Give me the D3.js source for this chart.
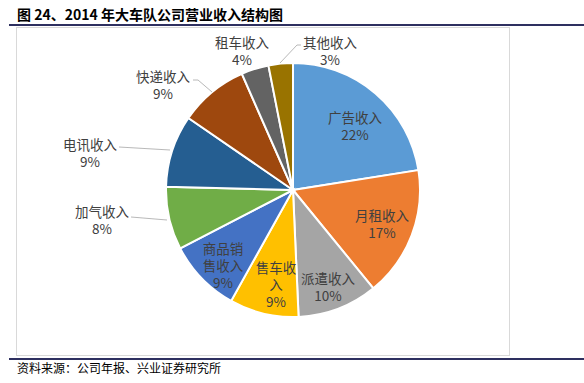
<!DOCTYPE html>
<html>
<head>
<meta charset="utf-8">
<script src="https://cdn.jsdelivr.net/npm/d3@7"></script>
<style>
body{margin:0;background:#fff;}
svg{display:block;font-family:"Noto Sans CJK SC","Noto Sans",sans-serif;}
</style>
</head>
<body>
<div id="chart"></div>
<script>
// data
var names = ["广告收入","月租收入","派遣收入","售车收入","商品销售收入","加气收入","电讯收入","快递收入","租车收入","其他收入"];
var values = [22.5,16.6,10.2,8.8,9.3,8.0,9.2,8.8,3.5,3.1];
var pctLabels = ["22%","17%","10%","9%","9%","8%","9%","9%","4%","3%"];
var colors = ["#5B9BD5","#ED7D31","#A5A5A5","#FFC000","#4472C4","#70AD47","#255E91","#9E480E","#636363","#997300"];

// label layout (block centre offset from pie centre), wrapped lines, leader line
var labelLayout = [
	{dx:62, dy:-64, lines:["广告收入"]},
	{dx:89, dy:34, lines:["月租收入"]},
	{dx:35, dy:97, lines:["派遣收入"]},
	{dx:-17, dy:95, lines:["售车收","入"]},
	{dx:-70, dy:76, lines:["商品销","售收入"]},
	{dx:-191, dy:30, lines:["加气收入"], lead:[[-162,27],[-126,30]]},
	{dx:-203, dy:-37, lines:["电讯收入"], lead:[[-174,-43],[-123,-40]]},
	{dx:-130, dy:-105, lines:["快递收入"], lead:[[-100,-110],[-95,-110],[-81,-98]]},
	{dx:-51, dy:-139, lines:["租车收入"]},
	{dx:37, dy:-139, lines:["其他收入"], lead:[[8,-145],[4,-145],[-13,-127]]}
];

var W=584, H=383;
var cx=293, cy=190, r=127;
var lineH=17;

var svg = d3.select("#chart").append("svg").attr("width",W).attr("height",H);

//title
svg.append("text").attr("x",17).attr("y",20)
	.style("font-size","14px").style("font-weight","bold").attr("fill","#000")
	.text("图 24、2014 年大车队公司营业收入结构图");
svg.append("line").attr("x1",9).attr("x2",584).attr("y1",25).attr("y2",25)
	.attr("stroke","#2E3060").attr("stroke-width",2);
//box
svg.append("rect").attr("x",16.5).attr("y",27.5).attr("width",493).attr("height",328)
	.attr("fill","#fff").attr("stroke","#D9D9D9").attr("stroke-width",1);
svg.append("line").attr("x1",9).attr("x2",584).attr("y1",359).attr("y2",359)
	.attr("stroke","#2E3060").attr("stroke-width",2);
svg.append("text").attr("x",17).attr("y",373)
	.style("font-size","12px").attr("fill","#000")
	.text("资料来源：公司年报、兴业证券研究所");

//pie
var pie = d3.pie().sort(null).value(function(d){return d;});
var arc = d3.arc().innerRadius(0).outerRadius(r);
var arcs = pie(values);

var g = svg.append("g").attr("transform","translate("+cx+","+cy+")");
g.selectAll("path").data(arcs).enter().append("path")
	.attr("d",arc)
	.attr("fill",function(d,i){return colors[i];})
	.attr("stroke","#fff").attr("stroke-width",2);

//leader lines
g.selectAll(".lead").data(labelLayout.filter(function(d){return d.lead;})).enter()
	.append("polyline").attr("class","lead")
	.attr("points",function(d){return d.lead.map(function(p){return p.join(",");}).join(" ");})
	.attr("fill","none").attr("stroke","#A6A6A6").attr("stroke-width",0.8);

//labels
labelLayout.forEach(function(l,i){
	var t = g.append("text").attr("text-anchor","middle")
		.style("font-size","13.5px").attr("fill","#404040");
	var all = l.lines.concat([pctLabels[i]]);
	var start = l.dy - (all.length-1)*lineH/2 + 5;
	all.forEach(function(s,j){
		t.append("tspan").attr("x",l.dx).attr("y",start+j*lineH).text(s);
	});
});
</script>
</body>
</html>
